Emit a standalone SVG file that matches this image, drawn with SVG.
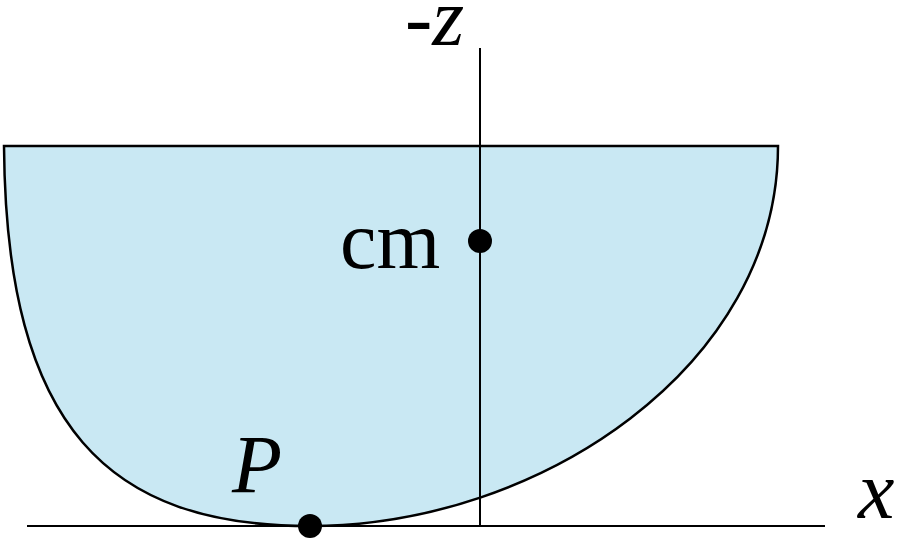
<svg xmlns="http://www.w3.org/2000/svg" width="907" height="542" viewBox="0 0 907 542">
<style>
.body{fill:#C9E8F3;stroke:#000;stroke-width:2.5;stroke-linejoin:miter}
.axis{stroke:#000;stroke-width:2;fill:none}
.dot{fill:#000}
text{font-family:'Liberation Serif','Times New Roman',Times,serif;font-size:82px;fill:#000}
.it{font-style:italic}
</style>
<rect width="907" height="542" fill="#fff"/>
<g id="hemisphere">
<path class="body" d="M4,146 L778,146 C778,366 540,526 310,526 C110,526 6,430 4,146 Z"/>
</g>
<g id="connectors">
<line class="axis" x1="480" y1="48" x2="480" y2="527"/>
<line class="axis" x1="27" y1="526" x2="825" y2="526"/>
</g>
<g id="label-z">
<text x="405" y="45">-<tspan class="it">z</tspan></text>
</g>
<g id="cm">
<circle class="dot" cx="480" cy="241" r="12"/>
<text x="340" y="268">cm</text>
</g>
<g id="P">
<circle class="dot" cx="310" cy="526" r="12"/>
<text class="it" x="232" y="492">P</text>
</g>
<g id="label-x">
<text class="it" x="858" y="518">x</text>
</g>
</svg>
